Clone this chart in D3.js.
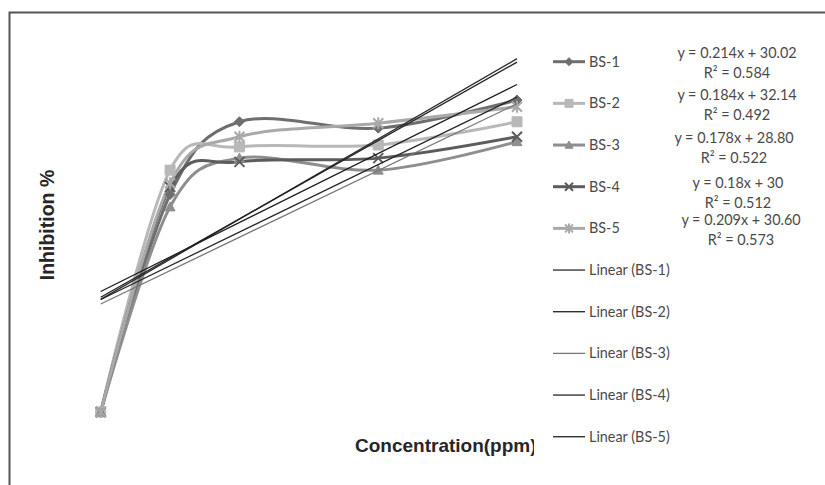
<!DOCTYPE html>
<html><head><meta charset="utf-8">
<script src="https://cdn.jsdelivr.net/npm/d3@7"></script>
<style>body{margin:0;background:#fff} svg{display:block}</style>
</head><body><svg id="c" width="825" height="485"></svg>
<script>
// Concentration (ppm) of each extract sample
const concentrations = [0, 50, 100, 200, 300];
const seriesNames = ["BS-1", "BS-2", "BS-3", "BS-4", "BS-5"];
// Inhibition % per series
const bs1 = [0, 58.0, 77.4, 75.7, 83.2];
const bs2 = [0, 64.5, 70.7, 71.2, 77.4];
const bs3 = [0, 54.7, 67.7, 64.5, 72.1];
const bs4 = [0, 60.0, 66.7, 67.7, 73.4];
const bs5 = [0, 61.0, 73.4, 77.0, 81.4];
// Linear trendline fits
const slopes = [0.214, 0.184, 0.178, 0.18, 0.209];
const intercepts = [30.02, 32.14, 28.80, 30, 30.60];
const equationLabels = ["y = 0.214x + 30.02", "y = 0.184x + 32.14", "y = 0.178x + 28.80", "y = 0.18x + 30", "y = 0.209x + 30.60"];
const rSquaredLabels = ["R² = 0.584", "R² = 0.492", "R² = 0.522", "R² = 0.512", "R² = 0.573"];
const trendNames = seriesNames.map(n => "Linear (" + n + ")");

const values = [bs1, bs2, bs3, bs4, bs5];
const colors = ["#6e6e6e", "#b8b8b8", "#8e8e8e", "#5c5c5c", "#a9a9a9"];
const markers = ["diamond", "square", "triangle", "x", "star"];
const trendColors = ["#2a2a2a", "#1e1e1e", "#777777", "#262626", "#222222"];

const svg = d3.select("#c");
const x = d3.scaleLinear().domain([0, 300]).range([100.7, 517]);
const y = d3.scaleLinear().domain([0, 100]).range([412, 37]);

// chart frame
svg.append("path").attr("d", "M9.5,485 V12.5 H825")
  .attr("fill", "none").attr("stroke", "#555").attr("stroke-width", 2);

// axis titles
const titleFont = "Liberation Sans, Arial, sans-serif";
svg.append("text").attr("transform", "translate(54,225) rotate(-90)")
  .attr("text-anchor", "middle").attr("font-family", titleFont)
  .attr("font-weight", "bold").attr("font-size", 19.5).attr("fill", "#262626").text("Inhibition %");
svg.append("text").attr("x", 355).attr("y", 452)
  .attr("font-family", titleFont)
  .attr("font-weight", "bold").attr("font-size", 19).attr("fill", "#262626").text("Concentration(ppm)");

function markerPath(type, s) {
  const h = s / 2;
  switch (type) {
    case "diamond": return `M0,${-h}L${h},0L0,${h}L${-h},0Z`;
    case "square": return `M${-h},${-h}H${h}V${h}H${-h}Z`;
    case "triangle": return `M0,${-h}L${h},${h * 0.8}H${-h}Z`;
    case "x": return `M${-h},${-h}L${h},${h}M${h},${-h}L${-h},${h}`;
    case "star": return `M${-h},${-h}L${h},${h}M${h},${-h}L${-h},${h}M0,${-h - 1}V${h + 1}`;
  }
}
function drawMarker(g, type, color, cx, cy, s) {
  const filled = type !== "x" && type !== "star";
  g.append("path").attr("transform", `translate(${cx},${cy})`)
    .attr("d", markerPath(type, s))
    .attr("fill", filled ? color : "none")
    .attr("stroke", color).attr("stroke-width", filled ? 1 : 2);
}

const line = d3.line().x((d, i) => x(concentrations[i])).y(d => y(d))
  .curve(d3.curveCardinal.tension(0));

const plot = svg.append("g");
values.forEach((vals, k) => {
  plot.append("path").attr("d", line(vals)).attr("fill", "none")
    .attr("stroke", colors[k]).attr("stroke-width", 3).attr("stroke-linejoin", "round");
});
values.forEach((vals, k) => {
  vals.forEach((v, i) => drawMarker(plot, markers[k], colors[k], x(concentrations[i]), y(v), 10));
});

// linear trendlines from the fitted equations
const xr = d3.extent(concentrations);
slopes.forEach((m, k) => {
  plot.append("line")
    .attr("x1", x(xr[0])).attr("y1", y(intercepts[k] + m * xr[0]))
    .attr("x2", x(xr[1])).attr("y2", y(intercepts[k] + m * xr[1]))
    .attr("stroke", trendColors[k]).attr("stroke-width", 1.3);
});

// legend
const leg = svg.append("g");
leg.append("rect").attr("x", 534).attr("y", 30).attr("width", 120).attr("height", 430).attr("fill", "#fff");
const rowY = i => 61.7 + i * 41.67;
const font = "Lato, 'Open Sans', sans-serif";
const fs = 14.4;
seriesNames.forEach((n, k) => {
  const cy = rowY(k);
  leg.append("line").attr("x1", 553).attr("x2", 585).attr("y1", cy).attr("y2", cy)
    .attr("stroke", colors[k]).attr("stroke-width", 3);
  drawMarker(leg, markers[k], colors[k], 569, cy, 8);
  leg.append("text").attr("x", 589).attr("y", cy + 5).attr("font-family", font)
    .attr("font-size", fs).attr("fill", "#4a4a4a").text(n);
});
trendNames.forEach((n, k) => {
  const cy = rowY(k + 5);
  leg.append("line").attr("x1", 553).attr("x2", 585).attr("y1", cy).attr("y2", cy)
    .attr("stroke", trendColors[k]).attr("stroke-width", 1.3);
  leg.append("text").attr("x", 589).attr("y", cy + 5).attr("font-family", font)
    .attr("font-size", fs).attr("fill", "#4a4a4a").text(n);
});

// trendline equation labels
const eqX = [737, 737, 734, 738, 741];
const eqY = [53, 95, 138, 183, 220];
equationLabels.forEach((t, k) => {
  svg.append("text").attr("x", eqX[k]).attr("y", eqY[k] + 5).attr("text-anchor", "middle")
    .attr("font-family", font).attr("font-size", fs).attr("fill", "#4a4a4a").text(t);
  svg.append("text").attr("x", eqX[k]).attr("y", eqY[k] + 19.5 + 5).attr("text-anchor", "middle")
    .attr("font-family", font).attr("font-size", fs).attr("fill", "#4a4a4a").text(rSquaredLabels[k]);
});
</script></body></html>
